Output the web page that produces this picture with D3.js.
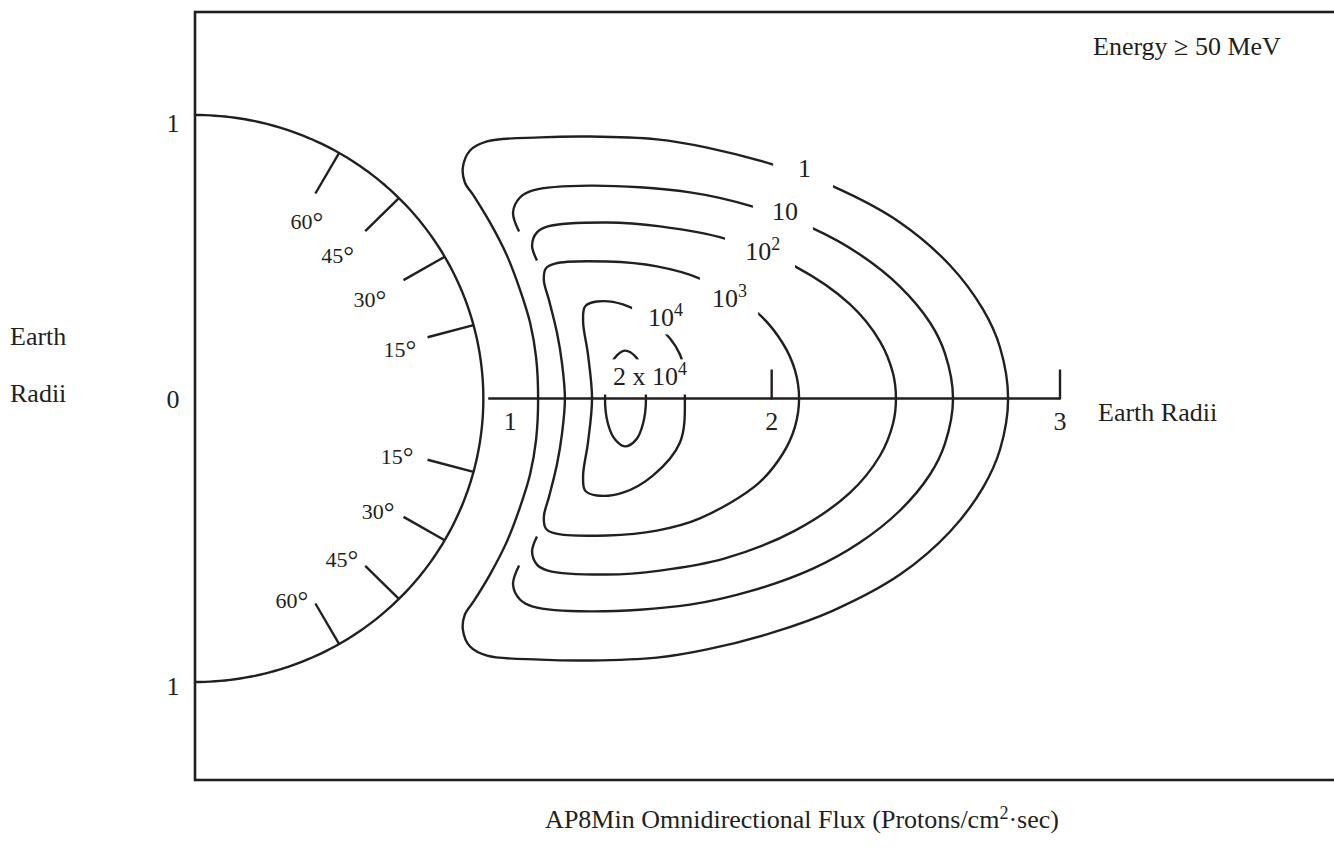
<!DOCTYPE html>
<html>
<head>
<meta charset="utf-8">
<script src="https://cdn.jsdelivr.net/npm/d3@7"></script>
<style>
  html, body { margin: 0; padding: 0; background: #fff; }
  svg { display: block; }
  text { font-family: "Liberation Serif", "Times New Roman", Times, serif; fill: #231f20; }
</style>
</head>
<body>
<svg id="chart" width="1334" height="847"></svg>
<script>
// ---------------------------------------------------------------
// AP8Min omnidirectional proton flux (E >= 50 MeV), meridian cut.
// Coordinates are in Earth radii: x = distance from Earth's centre
// in the equatorial plane, y = height above the magnetic equator.
// Each contour lists its upper half, from its inner end round to
// the equatorial crossing; the lower half is its mirror image.
// ---------------------------------------------------------------
const levelLabels = ["1", "10", "10^2", "10^3", "10^4", "2 x 10^4"];

const flux1 = [
  [1.190, 0], [1.183, 0.145], [1.162, 0.268], [1.127, 0.384], [1.082, 0.504],
  [1.023, 0.621], [0.968, 0.713], [0.936, 0.762], [0.929, 0.815], [0.954, 0.875],
  [1.013, 0.907], [1.197, 0.921], [1.370, 0.924], [1.602, 0.914], [1.776, 0.885],
  [2.005, 0.825], [2.213, 0.748], [2.445, 0.621], [2.619, 0.469], [2.733, 0.314],
  [2.792, 0.180], [2.820, 0]
];
const flux10 = [
  [1.124, 0.589], [1.103, 0.656], [1.127, 0.709], [1.172, 0.734], [1.370, 0.751],
  [1.717, 0.727], [1.935, 0.677], [2.143, 0.600], [2.306, 0.508], [2.445, 0.395],
  [2.549, 0.268], [2.601, 0.159], [2.629, 0]
];
const flux1e2 = [
  [1.186, 0.487], [1.169, 0.540], [1.186, 0.586], [1.224, 0.607], [1.429, 0.621],
  [1.613, 0.607], [1.838, 0.564], [2.081, 0.466], [2.272, 0.332], [2.376, 0.201],
  [2.421, 0.088], [2.431, 0]
];
const flux1e3 = [
  [1.283, 0], [1.273, 0.123], [1.256, 0.229], [1.228, 0.346], [1.210, 0.416],
  [1.217, 0.459], [1.249, 0.476], [1.429, 0.483], [1.602, 0.466], [1.751, 0.423],
  [1.953, 0.300], [2.039, 0.194], [2.081, 0.099], [2.095, 0]
];
const flux1e4 = [
  [1.377, 0], [1.363, 0.155], [1.346, 0.272], [1.353, 0.325], [1.394, 0.342],
  [1.484, 0.332], [1.588, 0.272], [1.682, 0.155], [1.699, 0]
];
const flux2e4 = [
  [1.422, 0], [1.432, 0.088], [1.457, 0.145], [1.491, 0.169], [1.530, 0.145],
  [1.554, 0.088], [1.564, 0]
];
// inner ends of the 10 and 10^2 contours stay open
const contourClosed = [true, false, false, true, true, true];

// magnetic latitude ticks on the Earth's limb (degrees)
const latitudes = [15, 30, 45, 60];

// axis ticks (Earth radii)
const xTickValues = [1, 2, 3];
const yTickValues = [1, 0, -1];
const yTickText = ["1", "0", "1"];

// ---------------------------------------------------------------
// layout
// ---------------------------------------------------------------
const ink = "#231f20";
const svg = d3.select("#chart");

const x = d3.scaleLinear().domain([0, 3]).range([195, 1060]);
const y = d3.scaleLinear().domain([-1, 1]).range([682, 115]);

const contours = [flux1, flux10, flux1e2, flux1e3, flux1e4, flux2e4];

// label placement (left edge / baseline, Earth radii) and the gap each label cuts in its line
const labelPlacement = [
  { x: 2.091, y: 0.780, gap: [2.005, 2.213, 0.709, 0.875] },
  { x: 2.001, y: 0.628, gap: [1.935, 2.143, 0.557, 0.723] },
  { x: 1.908, y: 0.490, gap: [1.838, 2.081, 0.423, 0.600] },
  { x: 1.793, y: 0.321, gap: [1.751, 1.953, 0.265, 0.451] },
  { x: 1.571, y: 0.257, gap: [1.516, 1.751, 0.226, 0.374] },
  { x: 1.450, y: 0.049, gap: [1.395, 1.734, 0.014, 0.138] }
];

// latitude label placement: radius and polar angle (deg) in Earth radii
const latLabelNorth = [[0.731, 13.5], [0.699, 29.8], [0.705, 45.4], [0.734, 58.1]];
const latLabelSouth = [[0.731, -16.4], [0.751, -32.2], [0.764, -48.2], [0.790, -64.8]];

// baseline offsets of the vertical scale labels (px)
const yTickBaseline = [17, 9, 13];

// ---------------------------------------------------------------
// frame
// ---------------------------------------------------------------
svg.append("rect")
  .attr("x", x(0)).attr("y", 12)
  .attr("width", 1200).attr("height", 768)
  .attr("fill", "none").attr("stroke", ink).attr("stroke-width", 2.6);

// ---------------------------------------------------------------
// Earth's limb with latitude ticks
// ---------------------------------------------------------------
const limb = d3.range(90, -90.5, -1).map(a => {
  const r = a * Math.PI / 180;
  return [Math.cos(r), Math.sin(r)];
});
const lineXY = d3.line().x(d => x(d[0])).y(d => y(d[1]));

svg.append("path")
  .attr("d", lineXY(limb))
  .attr("fill", "none").attr("stroke", ink).attr("stroke-width", 2.4);

const tickLat = latitudes.flatMap(l => [l, -l]);
svg.append("g").selectAll("line")
  .data(tickLat)
  .join("line")
  .attr("x1", d => x(Math.cos(d * Math.PI / 180)))
  .attr("y1", d => y(Math.sin(d * Math.PI / 180)))
  .attr("x2", d => x(0.835 * Math.cos(d * Math.PI / 180)))
  .attr("y2", d => y(0.835 * Math.sin(d * Math.PI / 180)))
  .attr("stroke", ink).attr("stroke-width", 2.4);

const latLabels = latitudes.map((l, i) => ({ t: l, p: latLabelNorth[i] }))
  .concat(latitudes.map((l, i) => ({ t: l, p: latLabelSouth[i] })));
svg.append("g").selectAll("text")
  .data(latLabels)
  .join("text")
  .attr("x", d => x(d.p[0] * Math.cos(d.p[1] * Math.PI / 180)))
  .attr("y", d => y(d.p[0] * Math.sin(d.p[1] * Math.PI / 180)) + 7)
  .attr("text-anchor", "middle")
  .attr("font-size", 22)
  .each(function (d) {
    const t = d3.select(this);
    t.append("tspan").text(d.t);
    t.append("tspan").attr("font-size", 27).attr("dy", 2).text("\u00B0");
  });

// ---------------------------------------------------------------
// flux contours
// ---------------------------------------------------------------
const defs = svg.append("defs");
const mask = defs.append("mask")
  .attr("id", "label-gaps")
  .attr("maskUnits", "userSpaceOnUse")
  .attr("x", 0).attr("y", 0).attr("width", 1334).attr("height", 847);
mask.append("rect")
  .attr("x", 0).attr("y", 0).attr("width", 1334).attr("height", 847)
  .attr("fill", "#fff");
mask.selectAll("rect.gap")
  .data(labelPlacement)
  .join("rect")
  .attr("class", "gap")
  .attr("x", d => x(d.gap[0]))
  .attr("y", d => y(d.gap[3]))
  .attr("width", d => x(d.gap[1]) - x(d.gap[0]))
  .attr("height", d => y(d.gap[2]) - y(d.gap[3]))
  .attr("fill", "#000");

const mirror = pts => pts.slice().reverse().map(p => [p[0], -p[1]]);
const openLine = d3.line().x(d => x(d[0])).y(d => y(d[1])).curve(d3.curveCatmullRom.alpha(0.5));
const closedLine = d3.line().x(d => x(d[0])).y(d => y(d[1])).curve(d3.curveCatmullRomClosed.alpha(0.5));

const gContours = svg.append("g").attr("mask", "url(#label-gaps)");
contours.forEach((top, i) => {
  const low = mirror(top);
  const d = contourClosed[i]
    ? closedLine(top.concat(low.slice(1, -1)))
    : openLine(top.concat(low.slice(1)));
  gContours.append("path")
    .attr("d", d)
    .attr("fill", "none")
    .attr("stroke", ink)
    .attr("stroke-width", 2.4);
});

// contour labels
svg.append("g").selectAll("text")
  .data(levelLabels.map((s, i) => ({ s, p: labelPlacement[i] })))
  .join("text")
  .attr("x", d => x(d.p.x))
  .attr("y", d => y(d.p.y))
  .attr("font-size", 26)
  .each(function (d) {
    const parts = d.s.split("^");
    const t = d3.select(this);
    t.append("tspan").text(parts[0]);
    if (parts[1]) t.append("tspan").attr("font-size", 18).attr("dy", -10).text(parts[1]);
  });

// ---------------------------------------------------------------
// equatorial axis (Earth radii)
// ---------------------------------------------------------------
svg.append("line")
  .attr("x1", x(1.017)).attr("x2", x(3))
  .attr("y1", y(0)).attr("y2", y(0))
  .attr("stroke", ink).attr("stroke-width", 2.4);

svg.append("g").selectAll("line")
  .data(xTickValues.filter(v => v > 1))
  .join("line")
  .attr("x1", d => x(d)).attr("x2", d => x(d))
  .attr("y1", y(0) + 1).attr("y2", y(0) - 29)
  .attr("stroke", ink).attr("stroke-width", 2.4);

svg.append("g").selectAll("text")
  .data(xTickValues)
  .join("text")
  .attr("x", d => x(d) + (d === 1 ? 27 : 0))
  .attr("y", y(0) + 31)
  .attr("text-anchor", "middle")
  .attr("font-size", 26)
  .text(d => d);

svg.append("text")
  .attr("x", 1098).attr("y", y(0) + 22)
  .attr("font-size", 26)
  .text("Earth Radii");

// vertical scale labels
svg.append("g").selectAll("text")
  .data(yTickValues)
  .join("text")
  .attr("x", 173)
  .attr("y", (d, i) => y(d) + yTickBaseline[i])
  .attr("text-anchor", "middle")
  .attr("font-size", 26)
  .text((d, i) => yTickText[i]);

svg.append("text").attr("x", 10).attr("y", y(0) - 54).attr("font-size", 26).text("Earth");
svg.append("text").attr("x", 10).attr("y", y(0) + 3).attr("font-size", 26).text("Radii");

// energy threshold
svg.append("text")
  .attr("x", 1093).attr("y", 55)
  .attr("font-size", 26)
  .text("Energy \u2265 50 MeV");

// chart title
const title = svg.append("text")
  .attr("x", 802).attr("y", 828)
  .attr("text-anchor", "middle")
  .attr("font-size", 26);
title.append("tspan").text("AP8Min Omnidirectional Flux (Protons/cm");
title.append("tspan").attr("font-size", 18).attr("dy", -9).text("2");
title.append("tspan").attr("dy", 9).text("\u00B7sec)");
</script>
</body>
</html>
